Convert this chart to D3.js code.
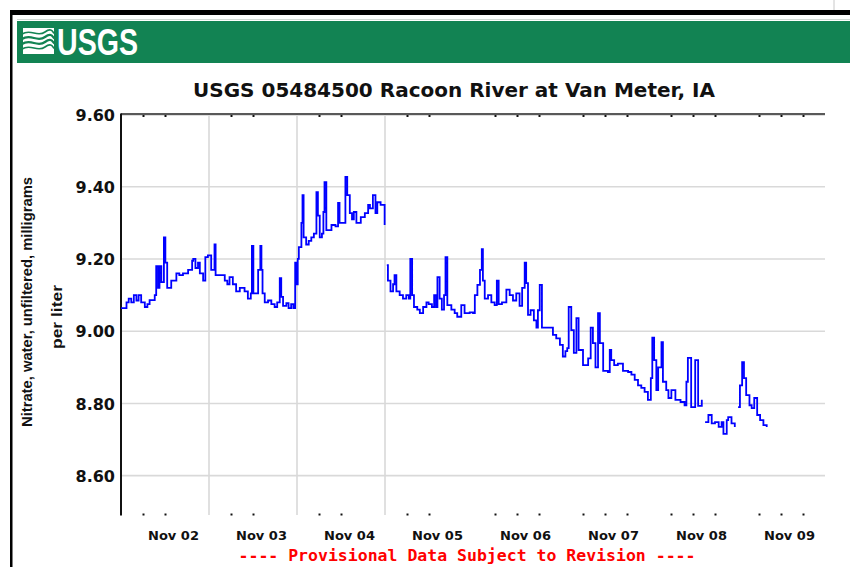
<!DOCTYPE html>
<html>
<head>
<meta charset="utf-8">
<script src="https://cdn.jsdelivr.net/npm/d3@7"></script>
<style>
  body { margin: 0; background: #fff; }
  svg { display: block; }
</style>
</head>
<body>
<svg id="svg" width="850" height="567"></svg>
<script>
// data, hours counted from Nov 02 00:00
const startTime = new Date(2013, 10, 2, 0, 0);
const endTime = new Date(2013, 10, 10, 0, 0);

const hours = [
  0, 1.5, 2.1, 2.8, 3.5, 4.2, 4.8, 5.5, 6.5, 7.2, 7.8, 9.2, 9.6, 10.1, 10.5, 11.0, 11.7, 12.1, 12.6, 13.7,
  15.1, 15.9, 16.9, 18.3, 19.4, 19.7, 20.3, 21.0, 21.5, 22.4, 23.0, 23.7, 24.6, 25.5, 25.8, 26.9, 28.3, 29.0, 29.6, 30.5,
  31.4, 32.4, 33.7, 34.6, 35.4, 35.7, 36.1, 37.4, 38.0, 38.3, 38.6, 39.2, 40.1, 41.0, 41.9, 42.6, 43.3, 43.7, 44.2, 45.1,
  45.7, 46.4, 47.0, 47.5, 47.9, 48.2, 48.5, 49.2, 49.5, 49.8, 50.5, 51.2, 51.9, 52.6, 53.3, 53.7, 54.2, 54.8, 55.2, 55.5,
  56.0, 57.4, 58.5, 59.2, 59.6, 60.5, 61.2, 61.7, 62.4, 63.0, 63.5, 64.2, 65.4, 66.5, 67.4, 67.9, 68.7, 69.4, 69.9, 70.8,
  71.7, 71.9, 72.2, 72.5, 72.8, 73.5, 74.2, 74.6, 75.1, 76.0, 76.9, 77.8, 78.5, 78.9, 79.4, 79.9, 80.8, 81.5, 82.4, 83.3,
  83.9, 84.8, 85.4, 85.9, 86.3, 86.9, 87.5, 88.1, 88.5, 89.0, 90.1, 91.0, 91.7, 92.8, 93.7, 95.1, 96.0, 96.5, 97.2, 97.9,
  98.4, 98.7, 99.2, 100.1, 101.0, 101.9, 102.5, 103.0, 103.9, 105.1, 106.0, 106.9, 107.8, 108.7, 109.4, 110.1, 110.5, 111.0, 111.7, 112.6,
  113.3, 113.7, 114.2, 114.8, 116.5, 117.8, 118.7, 119.7, 120.5, 121.2, 121.7, 122.1, 122.8, 123.5, 124.2, 124.8, 126.0, 127.4, 128.1, 128.7,
  129.4, 130.1, 130.6, 131.5, 132.8, 133.3, 133.7, 134.5, 135.5, 136.9, 138.3, 139.2, 140.1, 141.0, 141.9, 142.8, 143.7, 144.5, 144.9, 145.4,
  146.0, 146.5, 147.4, 147.8, 148.7, 149.3, 150.1, 151.2, 152.6, 153.7, 154.2, 154.6, 155.5, 156.6, 157.4, 158.4, 158.8, 159.3, 160.2, 161.1,
  162.0, 163.0, 163.8, 164.3, 165.2, 165.6, 166.5, 167.4, 167.8, 168.3, 168.8, 169.4, 169.9, 170.5, 171.4, 172.0, 172.7, 173.5, 174.3, 175.2,
  176.1
];

const nitrate = [
  9.064, 9.08, 9.09, 9.08, 9.10, 9.085, 9.10, 9.08, 9.067, 9.075, 9.086, 9.10, 9.18, 9.12, 9.18, 9.136, 9.26, 9.19, 9.12, 9.14,
  9.16, 9.155, 9.16, 9.17, 9.195, 9.20, 9.175, 9.19, 9.16, 9.14, 9.205, 9.21, 9.17, 9.24, 9.155, 9.155, 9.14, 9.13, 9.15, 9.13,
  9.11, 9.12, 9.11, 9.09, 9.105, 9.236, 9.105, 9.17, 9.236, 9.17, 9.105, 9.08, 9.085, 9.075, 9.067, 9.08, 9.147, 9.095, 9.07, 9.078,
  9.064, 9.075, 9.064, 9.19, 9.13, 9.20, 9.233, 9.30, 9.377, 9.26, 9.24, 9.25, 9.26, 9.27, 9.385, 9.32, 9.26, 9.27, 9.33, 9.413,
  9.28, 9.294, 9.29, 9.355, 9.30, 9.30, 9.427, 9.377, 9.327, 9.31, 9.33, 9.30, 9.316, 9.327, 9.35, 9.34, 9.377, 9.327, 9.357, 9.35,
  9.35, 9.294, null, 9.183, 9.14, 9.11, 9.13, 9.155, 9.11, 9.10, 9.09, 9.10, 9.09, 9.20, 9.10, 9.067, 9.06, 9.05, 9.067, 9.08,
  9.075, 9.067, 9.10, 9.067, 9.15, 9.09, 9.06, 9.10, 9.205, 9.072, 9.06, 9.05, 9.04, 9.072, 9.05, 9.052, 9.05, 9.10, 9.128, 9.17,
  9.227, 9.14, 9.09, 9.10, 9.08, 9.072, 9.14, 9.075, 9.08, 9.115, 9.10, 9.085, 9.105, 9.07, 9.12, 9.19, 9.133, 9.045, 9.058, 9.03,
  9.01, 9.058, 9.128, 9.01, 9.01, 8.99, 8.98, 8.962, 8.93, 8.945, 8.953, 9.067, 9.003, 8.94, 9.036, 8.948, 8.906, 8.925, 9.01, 8.967,
  8.90, 9.05, 8.967, 8.89, 8.887, 8.948, 8.92, 8.906, 8.91, 8.89, 8.887, 8.88, 8.865, 8.85, 8.843, 8.832, 8.81, 8.87, 8.982, 8.92,
  8.837, 8.90, 8.97, 8.86, 8.837, 8.815, 8.837, 8.81, 8.804, 8.795, 8.86, 8.926, 8.79, 8.92, 8.793, 8.81, null, 8.748, 8.768, 8.745,
  8.748, 8.735, 8.748, 8.716, 8.754, 8.762, 8.745, 8.735, null, 8.79, 8.85, 8.914, 8.87, 8.823, 8.795, 8.787, 8.815, 8.768, 8.754, 8.74,
  8.735
];

const yTicks = [8.60, 8.80, 9.00, 9.20, 9.40, 9.60];
const dayLabels = ['Nov 02', 'Nov 03', 'Nov 04', 'Nov 05', 'Nov 06', 'Nov 07', 'Nov 08', 'Nov 09'];
const gridDays = [1, 2, 3];                    // day boundaries with a vertical grid line
const minorTickHours = [6, 12, 30, 36, 54, 60, 78, 84, 102, 108, 114, 126, 132, 138, 150, 156, 162, 174, 180, 186];

const title = 'USGS 05484500 Racoon River at Van Meter, IA';
const yTitle = ['Nitrate, water, unfiltered, milligrams', 'per liter'];
const footNote = '---- Provisional Data Subject to Revision ----';

const svg = d3.select('#svg');
const hourTime = h => new Date(startTime.getTime() + h * 3600 * 1000);

const readings = hours.map((h, i) => ({ t: hourTime(h), v: nitrate[i] }));

const x = d3.scaleTime().domain([startTime, endTime]).range([121, 825]);
const y = d3.scaleLinear().domain([8.49, 9.60]).range([515.4, 114.5]);

// page frame
svg.append('line')
  .attr('x1', 834).attr('x2', 834).attr('y1', 0).attr('y2', 10)
  .style('stroke', '#c8c8c8').style('stroke-width', 1);
svg.append('rect')
  .attr('x', 10).attr('y', 10).attr('width', 840).attr('height', 5)
  .style('fill', '#000');
svg.append('rect')
  .attr('x', 10).attr('y', 10).attr('width', 2.5).attr('height', 557)
  .style('fill', '#000');

// USGS banner
svg.append('line')
  .attr('x1', 17).attr('x2', 850).attr('y1', 19.5).attr('y2', 19.5)
  .style('stroke', '#cfd8d3').style('stroke-width', 1);
svg.append('rect')
  .attr('x', 17).attr('y', 21).attr('width', 833).attr('height', 42)
  .style('fill', '#128353');

const logo = svg.append('g').attr('transform', 'translate(23,28)');
logo.append('rect')
  .attr('width', 31).attr('height', 26)
  .style('fill', '#fff');
[4, 9, 14, 19].forEach((o, i) => {
  logo.append('path')
    .attr('d', `M-1,${o + 2} C8,${o - 4} 14,${o + 6} 22,${o} S30,${o + 3} 32,${o + 1}`)
    .style('fill', 'none')
    .style('stroke', '#128353')
    .style('stroke-width', i == 0 || i == 3 ? 1.6 : 2.2);
});
svg.append('text')
  .attr('x', 57).attr('y', 55)
  .attr('textLength', 81)
  .attr('lengthAdjust', 'spacingAndGlyphs')
  .style('font-family', '"Liberation Sans Narrow", "Liberation Sans", sans-serif')
  .style('font-weight', 700)
  .style('font-size', '37px')
  .style('fill', '#fff')
  .text('USGS');

// title
svg.append('text')
  .attr('x', 454).attr('y', 97)
  .attr('text-anchor', 'middle')
  .style('font-family', '"DejaVu Sans", sans-serif')
  .style('font-weight', 700)
  .style('font-size', '20px')
  .style('fill', '#111')
  .text(title);

// horizontal grid
svg.append('g')
  .selectAll('line')
  .data(yTicks.slice(0, -1))
  .join('line')
  .attr('x1', 121).attr('x2', 825)
  .attr('y1', d => y(d)).attr('y2', d => y(d))
  .style('stroke', '#d9d9d9').style('stroke-width', 1.6);

// vertical grid at some day boundaries
svg.append('g')
  .selectAll('line')
  .data(gridDays)
  .join('line')
  .attr('x1', d => x(hourTime(d * 24))).attr('x2', d => x(hourTime(d * 24)))
  .attr('y1', 114.5).attr('y2', 515)
  .style('stroke', '#d9d9d9').style('stroke-width', 1.6);

// top border
svg.append('line')
  .attr('x1', 121).attr('x2', 825).attr('y1', 115.5).attr('y2', 115.5)
  .style('stroke', '#ddd').style('stroke-width', 1);
svg.append('line')
  .attr('x1', 121).attr('x2', 825).attr('y1', 114).attr('y2', 114)
  .style('stroke', '#222').style('stroke-width', 1.5);

// minor tick dots, top and bottom
const minorAxisTop = d3.axisBottom(x)
  .tickValues(minorTickHours.map(hourTime))
  .tickSize(2)
  .tickFormat('');
const topTicks = svg.append('g').attr('transform', 'translate(0,115)').call(minorAxisTop);
const botTicks = svg.append('g').attr('transform', 'translate(0,513.5)').call(minorAxisTop);
[topTicks, botTicks].forEach(g => {
  g.select('path.domain').remove();
  g.selectAll('line').style('stroke', '#111').style('stroke-width', 2);
});

// x labels
const xAxis = d3.axisBottom(x)
  .tickValues(dayLabels.map((d, i) => hourTime(i * 24 + 12)))
  .tickSize(0)
  .tickFormat((d, i) => dayLabels[i]);
const xAxisG = svg.append('g').attr('transform', 'translate(0,515)').call(xAxis);
xAxisG.select('path.domain').remove();
xAxisG.selectAll('text')
  .attr('y', 25).attr('dy', 0).attr('dx', 8)
  .style('font-family', '"DejaVu Sans", sans-serif')
  .style('font-weight', 700)
  .style('font-size', '13px')
  .style('fill', '#111');

// y axis
const yAxis = d3.axisLeft(y)
  .tickValues(yTicks)
  .tickSize(0)
  .tickPadding(6)
  .tickFormat(d3.format('.2f'));
const yAxisG = svg.append('g').attr('transform', 'translate(121,0)').call(yAxis);
yAxisG.select('path.domain').remove();
yAxisG.selectAll('text')
  .attr('dy', '0.36em')
  .style('font-family', '"DejaVu Sans", sans-serif')
  .style('font-weight', 700)
  .style('font-size', '16px')
  .style('fill', '#111');
svg.append('line')
  .attr('x1', 121).attr('x2', 121).attr('y1', 113.5).attr('y2', 515.5)
  .style('stroke', '#111').style('stroke-width', 2);

// y title
svg.append('g')
  .attr('transform', 'translate(27,302) rotate(-90)')
  .selectAll('text')
  .data(yTitle)
  .join('text')
  .attr('x', (d, i) => i == 0 ? 0 : -15)
  .attr('y', (d, i) => i * 30 + 5)
  .attr('text-anchor', 'middle')
  .attr('textLength', (d, i) => i == 0 ? 250 : 64)
  .attr('lengthAdjust', 'spacingAndGlyphs')
  .style('font-family', '"Liberation Sans", sans-serif')
  .style('font-weight', 700)
  .style('font-size', '14px')
  .style('fill', '#111')
  .text(d => d);

// nitrate line
const line = d3.line()
  .defined(d => d.v != null)
  .x(d => x(d.t))
  .y(d => y(d.v))
  .curve(d3.curveStepAfter);

svg.append('path')
  .datum(readings)
  .attr('d', line)
  .style('fill', 'none')
  .style('stroke', '#0000ff')
  .style('stroke-width', 1.8);

// provisional note
svg.append('text')
  .attr('x', 467).attr('y', 561)
  .attr('text-anchor', 'middle')
  .style('font-family', '"DejaVu Sans Mono", monospace')
  .style('font-weight', 700)
  .style('font-size', '16.5px')
  .style('fill', '#ff0000')
  .text(footNote);
</script>
</body>
</html>
